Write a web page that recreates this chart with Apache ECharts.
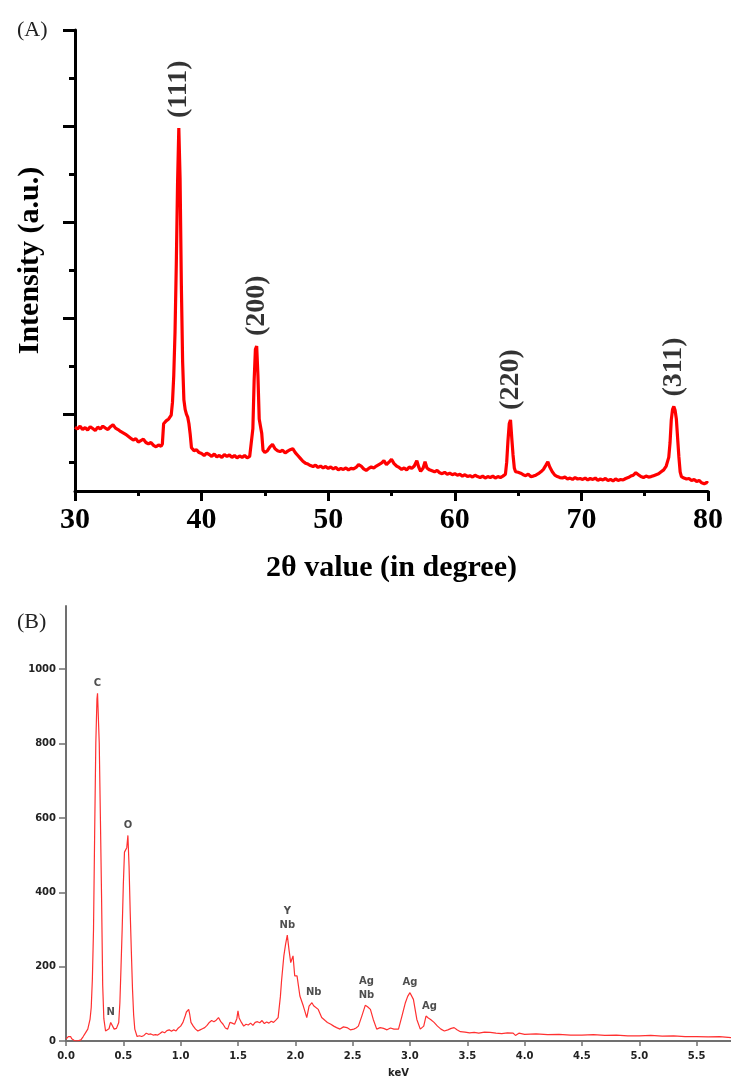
<!DOCTYPE html>
<html>
<head>
<meta charset="utf-8">
<script src="https://cdn.jsdelivr.net/npm/echarts@6/dist/echarts.min.js"></script>
<style>
html,body{margin:0;padding:0;background:#fff;}
#c{width:731px;height:1079px;}
</style>
</head>
<body>
<div id="c"></div>
<script>
// ---------- (A) XRD pattern ----------
const xrdTicks = [30, 40, 50, 60, 70, 80];
const xrdYMajorTicks = [160, 360, 560, 760, 960];
const xrdYMinorTicks = [60, 260, 460, 660, 860];
const xrdAngle = [
30.0,30.2,30.4,30.6,30.8,31.0,31.2,31.4,31.6,31.8,32.0,32.2,32.4,32.6,32.8,33.0,33.2,33.4,33.6,33.8,
34.0,34.2,34.4,34.6,34.8,35.0,35.2,35.4,35.6,35.8,36.0,36.2,36.4,36.6,36.8,36.9,37.0,37.2,37.4,37.6,
37.7,37.8,37.9,38.0,38.1,38.2,38.3,38.4,38.5,38.6,38.7,38.8,38.9,39.0,39.1,39.2,39.4,39.6,39.8,40.0,
40.2,40.4,40.6,40.8,41.0,41.2,41.4,41.6,41.8,42.0,42.2,42.4,42.6,42.8,43.0,43.2,43.4,43.6,43.8,43.95,
44.05,44.15,44.25,44.35,44.45,44.55,44.65,44.75,44.85,45.0,45.2,45.4,45.6,45.8,46.0,46.2,46.4,46.6,46.8,47.0,
47.2,47.4,47.6,47.8,48.0,48.2,48.4,48.6,48.8,49.0,49.2,49.4,49.6,49.8,50.0,50.2,50.4,50.6,50.8,51.0,
51.2,51.4,51.6,51.8,52.0,52.2,52.4,52.5,52.6,52.8,53.0,53.2,53.4,53.6,53.8,54.0,54.2,54.4,54.6,54.8,
55.0,55.2,55.4,55.6,55.8,56.0,56.2,56.4,56.6,56.8,57.0,57.15,57.3,57.5,57.65,57.8,58.0,58.2,58.4,58.6,
58.8,59.0,59.2,59.4,59.6,59.8,60.0,60.2,60.4,60.6,60.8,61.0,61.2,61.4,61.6,61.8,62.0,62.2,62.4,62.6,
62.8,63.0,63.2,63.4,63.6,63.8,64.0,64.1,64.2,64.3,64.4,64.5,64.6,64.7,64.8,65.0,65.2,65.4,65.6,65.8,
66.0,66.2,66.4,66.6,66.8,67.0,67.2,67.35,67.5,67.7,67.9,68.1,68.3,68.5,68.7,68.9,69.1,69.3,69.5,69.7,
69.9,70.1,70.3,70.5,70.7,70.9,71.1,71.3,71.5,71.7,71.9,72.1,72.3,72.5,72.7,72.9,73.1,73.3,73.5,73.7,
73.9,74.1,74.3,74.5,74.7,74.9,75.1,75.3,75.5,75.7,75.9,76.1,76.3,76.5,76.7,76.9,77.0,77.1,77.2,77.3,
77.4,77.5,77.6,77.7,77.8,77.9,78.1,78.3,78.5,78.7,78.9,79.1,79.3,79.5,79.7,79.9,80.0
];
const xrdIntensity = [
133,129,135,128,132,127,134,130,126,133,129,135,131,128,134,138,131,128,124,121,
118,114,110,106,109,102,105,108,101,98,101,95,92,96,93,98,140,146,150,158,
185,240,330,470,640,756,650,430,270,190,170,160,154,140,118,90,84,86,80,78,
74,79,76,72,77,71,74,70,76,72,75,70,74,69,73,70,74,69,72,75,
130,230,295,302,240,150,135,120,85,80,84,92,97,88,84,82,85,79,83,86,
88,80,74,68,62,58,56,53,51,54,49,52,48,51,47,50,46,49,44,47,
45,48,44,47,46,49,55,59,52,46,43,47,50,48,52,55,58,63,55,60,
66,57,52,49,45,48,44,50,47,52,63,50,41,48,61,48,44,42,40,43,
38,36,39,35,37,34,36,33,35,31,34,30,32,29,33,30,28,31,27,30,
28,31,27,30,28,31,35,60,105,140,148,110,75,48,40,39,37,34,32,35,
30,31,33,36,40,45,54,61,50,40,33,30,28,27,29,25,27,24,28,25,
26,24,27,23,26,24,27,22,25,23,26,22,24,21,25,22,24,23,26,28,
31,33,38,34,30,28,31,29,30,32,34,36,40,44,52,70,100,148,170,176,
168,150,110,71,40,30,27,25,26,22,24,20,22,17,15,18,16
];
const xrdPeakAngle = [38.2, 44.35, 64.4, 77.3];
const xrdPeakValue = [756, 302, 148, 176];
const xrdPeakText = ['(111)', '(200)', '(220)', '(311)'];

// ---------- (B) EDX spectrum ----------
const edxYTicks = [0, 200, 400, 600, 800, 1000];
const edxXTicks = [0, 0.5, 1.0, 1.5, 2.0, 2.5, 3.0, 3.5, 4.0, 4.5, 5.0, 5.5];
const edxKeV = [
0.00,0.01,0.02,0.03,0.04,0.05,0.07,0.09,0.11,0.13,0.15,0.17,0.19,0.21,0.22,0.23,0.24,0.25,0.26,0.27,
0.275,0.28,0.29,0.30,0.31,0.32,0.33,0.345,0.36,0.375,0.39,0.40,0.42,0.44,0.46,0.47,0.48,0.49,0.50,0.51,
0.52,0.53,0.54,0.55,0.56,0.57,0.58,0.59,0.60,0.62,0.64,0.66,0.68,0.70,0.72,0.74,0.76,0.78,0.80,0.82,
0.84,0.86,0.88,0.90,0.92,0.94,0.96,0.98,1.00,1.02,1.04,1.05,1.06,1.07,1.08,1.09,1.11,1.13,1.15,1.17,
1.19,1.21,1.23,1.25,1.27,1.29,1.31,1.33,1.35,1.37,1.39,1.41,1.43,1.45,1.47,1.49,1.50,1.51,1.53,1.55,
1.57,1.59,1.61,1.63,1.65,1.67,1.69,1.71,1.73,1.75,1.77,1.79,1.81,1.83,1.85,1.87,1.88,1.90,1.915,1.93,
1.945,1.96,1.98,1.995,2.015,2.04,2.07,2.10,2.12,2.145,2.16,2.175,2.20,2.23,2.26,2.28,2.31,2.335,2.36,2.39,
2.42,2.45,2.48,2.51,2.53,2.55,2.58,2.61,2.63,2.655,2.68,2.71,2.74,2.77,2.80,2.83,2.86,2.90,2.93,2.96,
2.98,3.00,3.03,3.06,3.09,3.12,3.14,3.16,3.18,3.21,3.24,3.27,3.30,3.33,3.36,3.385,3.41,3.44,3.48,3.52,
3.56,3.60,3.65,3.70,3.75,3.80,3.85,3.90,3.92,3.95,4.0,4.1,4.2,4.3,4.4,4.5,4.6,4.7,4.8,4.9,
5.0,5.1,5.2,5.3,5.4,5.5,5.6,5.7,5.8
];
const edxCounts = [
5,8,12,16,12,6,2,0,1,3,12,22,32,59,90,166,300,560,800,920,
935,930,800,600,391,150,60,27,32,33,50,45,32,34,50,103,200,301,420,508,
512,520,553,470,346,240,140,70,32,12,14,12,15,21,18,19,16,17,16,20,
25,22,28,30,26,30,27,35,40,50,68,78,80,85,70,50,40,32,27,30,
33,36,42,50,55,52,56,63,52,45,35,32,50,48,45,60,81,62,50,40,
45,43,48,42,50,52,49,55,47,51,48,53,50,56,63,120,162,229,260,285,
245,211,229,175,175,121,94,63,94,103,95,99,85,63,55,50,45,40,36,32,
38,36,30,32,35,40,67,96,92,85,58,32,36,34,30,35,32,32,67,103,
120,130,112,58,32,40,67,62,58,50,40,32,27,30,34,36,30,25,24,22,
23,21,24,23,21,20,22,21,15,21,18,19,17,18,16,16,17,15,16,14,
14,15,13,14,12,12,11,12,9
];
const edxPeakKeV = [0.275, 0.39, 0.54, 1.93, 2.16, 2.62, 3.00, 3.17];
const edxPeakCount = [935, 50, 553, 285, 103, 96, 130, 67];
const edxPeakText = ['C', 'N', 'O', 'Y\nNb', 'Nb', 'Ag\nNb', 'Ag', 'Ag'];

const SERIF = '"Liberation Serif", "Times New Roman", serif';
const SANS = '"DejaVu Sans", Verdana, sans-serif';

const xrdLine = xrdAngle.map((a, i) => [a, xrdIntensity[i]]);
const xrdLabels = xrdPeakAngle.map((a, i) => ({ value: [a, xrdPeakValue[i]], name: xrdPeakText[i] }));
const edxLine = edxKeV.map((k, i) => [k, edxCounts[i]]);
const edxLabels = edxPeakKeV.map((k, i) => ({ value: [k, edxPeakCount[i]], name: edxPeakText[i] }));

const chart = echarts.init(document.getElementById('c'), null, { renderer: 'canvas' });
chart.setOption({
  animation: false,
  backgroundColor: '#fff',
  title: [
    { text: '(A)', left: 12, top: 14, textStyle: { fontFamily: SERIF, fontWeight: 'normal', fontSize: 22, color: '#222' } },
    { text: '(B)', left: 12, top: 606, textStyle: { fontFamily: SERIF, fontWeight: 'normal', fontSize: 22, color: '#222' } }
  ],
  grid: [
    { left: 75, right: 23, top: 30, height: 461 },
    { left: 66, right: 0, top: 606, height: 436 }
  ],
  xAxis: [
    {
      gridIndex: 0, type: 'value', min: 30, max: 80, interval: 10,
      name: '2θ value (in degree)', nameLocation: 'middle', nameGap: 62,
      nameTextStyle: { fontFamily: SERIF, fontWeight: 'bold', fontSize: 30, color: '#000' },
      axisLine: { lineStyle: { color: '#000', width: 3 } },
      axisTick: { length: 10, lineStyle: { color: '#000', width: 3 } },
      minorTick: { show: true, splitNumber: 2, length: 5, lineStyle: { color: '#000', width: 3 } },
      axisLabel: { margin: 14, fontFamily: SERIF, fontWeight: 'bold', fontSize: 30, color: '#000' },
      splitLine: { show: false }
    },
    {
      gridIndex: 1, type: 'value', min: 0, max: 5.8,
      name: 'keV', nameLocation: 'middle', nameGap: 27,
      nameTextStyle: { fontFamily: SANS, fontWeight: 'bold', fontSize: 10, color: '#222' },
      axisLine: { lineStyle: { color: '#707070', width: 2 } },
      axisTick: { customValues: edxXTicks, length: 5, lineStyle: { color: '#707070', width: 1.5 } },
      axisLabel: { customValues: edxXTicks, margin: 10, fontFamily: SANS, fontWeight: 'bold', fontSize: 10, color: '#222', formatter: v => v.toFixed(1) },
      splitLine: { show: false }
    }
  ],
  yAxis: [
    {
      gridIndex: 0, type: 'value', min: 0, max: 960, position: 'left',
      name: 'Intensity (a.u.)', nameLocation: 'middle', nameGap: 30, nameRotate: 90,
      nameTextStyle: { fontFamily: SERIF, fontWeight: 'bold', fontSize: 30, color: '#000' },
      axisLine: { show: true, lineStyle: { color: '#000', width: 3 } },
      axisTick: { show: true, customValues: xrdYMajorTicks, length: 12, lineStyle: { color: '#000', width: 3 } },
      axisLabel: { show: false },
      splitLine: { show: false }
    },
    {
      gridIndex: 0, type: 'value', min: 0, max: 960, position: 'left', offset: 0,
      axisLine: { show: false },
      axisTick: { show: true, customValues: xrdYMinorTicks, length: 6, lineStyle: { color: '#000', width: 3 } },
      axisLabel: { show: false },
      splitLine: { show: false }
    },
    {
      gridIndex: 1, type: 'value', min: 0, max: 1170, position: 'left',
      axisLine: { show: true, lineStyle: { color: '#707070', width: 2 } },
      axisTick: { show: true, customValues: edxYTicks, length: 7, lineStyle: { color: '#707070', width: 1.5 } },
      axisLabel: { customValues: edxYTicks, margin: 10, fontFamily: SANS, fontWeight: 'bold', fontSize: 10, color: '#222', formatter: v => String(v) },
      splitLine: { show: false }
    }
  ],
  series: [
    {
      type: 'line', xAxisIndex: 0, yAxisIndex: 0, data: xrdLine, showSymbol: false, silent: true,
      lineStyle: { color: '#ff0000', width: 3.2 }
    },
    {
      type: 'scatter', xAxisIndex: 0, yAxisIndex: 0, data: xrdLabels, symbolSize: 0, silent: true,
      label: {
        show: true, position: 'top', distance: 10, rotate: 90, align: 'left', verticalAlign: 'middle',
        formatter: p => p.name, fontFamily: SERIF, fontWeight: 'bold', fontSize: 28, color: '#000'
      }
    },
    {
      type: 'line', xAxisIndex: 1, yAxisIndex: 2, data: edxLine, showSymbol: false, silent: true,
      lineStyle: { color: '#ff3030', width: 1.2 }
    },
    {
      type: 'scatter', xAxisIndex: 1, yAxisIndex: 2, data: edxLabels, symbolSize: 0, silent: true,
      label: {
        show: true, position: 'top', distance: 3, lineHeight: 14,
        formatter: p => p.name, fontFamily: SANS, fontWeight: 'bold', fontSize: 10, color: '#222'
      }
    }
  ]
});
</script>
</body>
</html>
